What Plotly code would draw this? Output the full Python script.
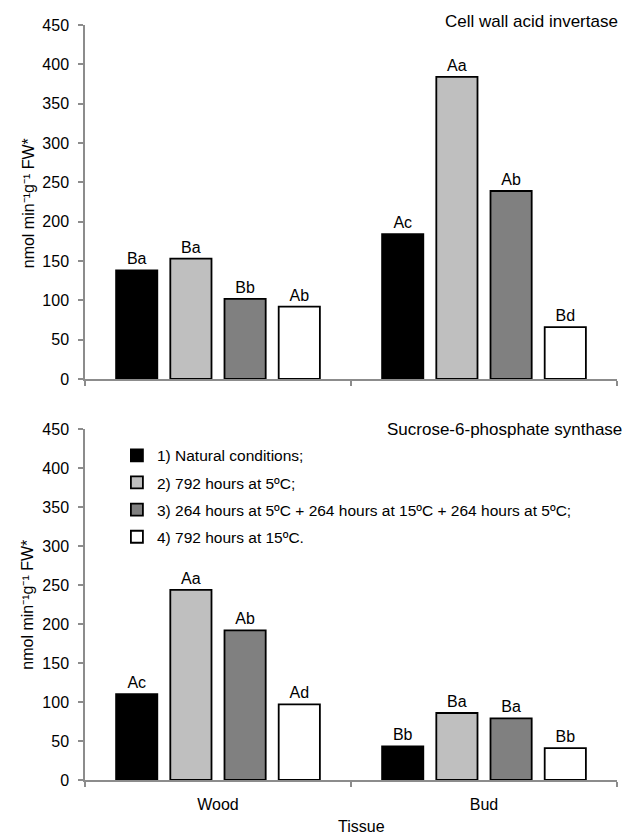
import plotly.graph_objects as go

tissues = ["Wood", "Bud"]
series_names = [
    "1) Natural conditions;",
    "2) 792 hours at 5ºC;",
    "3) 264 hours at 5ºC + 264 hours at 15ºC + 264 hours at 5ºC;",
    "4) 792 hours at 15ºC.",
]
colors = ["#000000", "#BFBFBF", "#808080", "#FFFFFF"]

# Cell wall acid invertase (top panel)
cwai_natural = [138, 184]
cwai_5c = [153, 384]
cwai_cycle = [102, 239]
cwai_15c = [92, 66]
cwai_labels = [["Ba", "Ac"], ["Ba", "Aa"], ["Bb", "Ab"], ["Ab", "Bd"]]

# Sucrose-6-phosphate synthase (bottom panel)
sps_natural = [110, 43]
sps_5c = [244, 86]
sps_cycle = [192, 79]
sps_15c = [97, 41]
sps_labels = [["Ac", "Bb"], ["Aa", "Ba"], ["Ab", "Ba"], ["Ad", "Bb"]]

y_ticks = [0, 50, 100, 150, 200, 250, 300, 350, 400, 450]

FONT = "Liberation Sans, Arial, sans-serif"
AXIS_COL = "#8C8C8C"

fig = go.Figure()

top_vals = [cwai_natural, cwai_5c, cwai_cycle, cwai_15c]
bot_vals = [sps_natural, sps_5c, sps_cycle, sps_15c]

for i in range(4):
    fig.add_trace(go.Bar(
        x=tissues, y=top_vals[i], text=cwai_labels[i], name=series_names[i],
        marker=dict(color=colors[i], line=dict(color="#000000", width=1.8)),
        textposition="outside", constraintext="none", cliponaxis=False,
        textfont=dict(size=16, color="#000000", family=FONT),
        xaxis="x", yaxis="y", showlegend=False, legendgroup=f"g{i}",
    ))
for i in range(4):
    fig.add_trace(go.Bar(
        x=tissues, y=bot_vals[i], text=sps_labels[i], name=series_names[i],
        marker=dict(color=colors[i], line=dict(color="#000000", width=1.8)),
        textposition="outside", constraintext="none", cliponaxis=False,
        textfont=dict(size=16, color="#000000", family=FONT),
        xaxis="x2", yaxis="y2", showlegend=True, legendgroup=f"g{i}",
    ))

common_x = dict(
    type="category", categoryarray=tissues, range=[-0.5, 1.5],
    showline=True, linecolor=AXIS_COL, linewidth=1.5,
    ticks="outside", tickson="boundaries", ticklen=5, tickcolor=AXIS_COL, tickwidth=1.5,
    showgrid=False, zeroline=False, ticklabelstandoff=9,
    tickfont=dict(size=16, color="#000000", family=FONT),
)
common_y = dict(
    range=[0, 450], tickvals=y_ticks, showline=True, linecolor=AXIS_COL, linewidth=1.5,
    ticks="outside", ticklen=5, tickcolor=AXIS_COL, tickwidth=1.5,
    showgrid=False, zeroline=False, ticklabelstandoff=6,
    tickfont=dict(size=16, color="#000000", family=FONT),
)

fig.update_layout(
    width=627, height=835,
    margin=dict(l=85, r=10, t=25, b=55),
    paper_bgcolor="#FFFFFF", plot_bgcolor="#FFFFFF",
    font=dict(family=FONT, color="#000000"),
    barmode="group", bargap=0.185, bargroupgap=0.24,
    xaxis=dict(common_x, anchor="y", showticklabels=False),
    yaxis=dict(common_y, domain=[0.5311, 1.0], anchor="x"),
    xaxis2=dict(common_x, anchor="y2"),
    yaxis2=dict(common_y, domain=[0.0, 0.4645], anchor="x2"),
    legend=dict(
        x=0.06, y=0.452, xanchor="left", yanchor="top",
        font=dict(size=15.5, color="#000000", family=FONT),
        bgcolor="rgba(0,0,0,0)", traceorder="grouped", tracegroupgap=4,
    ),
    annotations=[
        dict(text="Cell wall acid invertase", x=1.0056, y=1.004, xref="paper", yref="paper",
             xanchor="right", yanchor="middle", showarrow=False,
             font=dict(size=17, color="#000000", family=FONT)),
        dict(text="Sucrose-6-phosphate synthase", x=1.013, y=0.4649, xref="paper", yref="paper",
             xanchor="right", yanchor="middle", showarrow=False,
             font=dict(size=17, color="#000000", family=FONT)),
        dict(text="nmol min⁻¹g⁻¹ FW*", x=-0.107, y=0.764, xref="paper", yref="paper",
             xanchor="center", yanchor="middle", textangle=-90, showarrow=False,
             font=dict(size=16, color="#000000", family=FONT)),
        dict(text="nmol min⁻¹g⁻¹ FW*", x=-0.107, y=0.2323, xref="paper", yref="paper",
             xanchor="center", yanchor="middle", textangle=-90, showarrow=False,
             font=dict(size=16, color="#000000", family=FONT)),
        dict(text="Tissue", x=0.52, y=-0.062, xref="paper", yref="paper",
             xanchor="center", yanchor="middle", showarrow=False,
             font=dict(size=16, color="#000000", family=FONT)),
    ],
)

fig.write_html("out.html", config={"displayModeBar": False},
               post_script="document.body.style.margin='0';")
